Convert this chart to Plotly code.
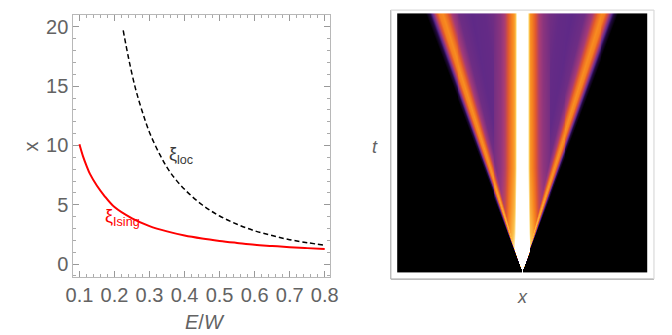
import numpy as np
import plotly.graph_objects as go

# --- left panel: length scales versus E/W ---
ising_e = [0.10, 0.11, 0.12, 0.13, 0.15, 0.17, 0.20, 0.25, 0.30, 0.35, 0.40,
           0.45, 0.50, 0.55, 0.60, 0.65, 0.70, 0.75, 0.80]
ising_xi = [10.1, 9.1, 8.3, 7.6, 6.6, 5.8, 4.8, 3.85, 3.2, 2.75, 2.4,
            2.15, 1.95, 1.78, 1.62, 1.52, 1.42, 1.34, 1.27]
loc_e = [0.225, 0.24, 0.26, 0.28, 0.30, 0.33, 0.36, 0.40, 0.45, 0.50,
         0.55, 0.60, 0.65, 0.70, 0.75, 0.80]
loc_xi = [19.7, 17.4, 14.8, 12.8, 11.1, 9.2, 7.7, 6.3, 5.0, 4.05,
          3.35, 2.8, 2.4, 2.05, 1.8, 1.58]

# --- right panel: light-cone density map ---
# intensity across the cone, against u = x / (v t)
cone_u = [0.00, 0.20, 0.30, 0.40, 0.55, 0.68, 0.76, 0.82, 0.86, 0.90, 0.94, 0.97, 1.00, 1.04]
cone_level = [0.50, 0.46, 0.40, 0.37, 0.36, 0.39, 0.50, 0.66, 0.73, 0.70, 0.55, 0.38, 0.15, 0.0]
# localized glow around x = 0 (in units of the panel half-width)
core_x = [0.000, 0.042, 0.052, 0.064, 0.085, 0.110, 0.135, 0.170, 0.220, 0.260]
core_level = [1.00, 1.00, 0.86, 0.76, 0.70, 0.62, 0.52, 0.45, 0.40, 0.0]
# brightening at early times
gain_t = [0.00, 0.04, 0.08, 0.15, 0.25, 0.40, 1.00]
gain = [1.45, 1.32, 1.24, 1.15, 1.08, 1.02, 1.00]
front_speed = 0.74
nx, nt = 257, 259

xs = np.linspace(-1 + 1 / nx, 1 - 1 / nx, nx)
ts = np.linspace(0.5 / nt, 1 - 0.5 / nt, nt)
X, T = np.meshgrid(xs, ts)
U = np.abs(X) / (front_speed * T)
cone = np.interp(U, cone_u, cone_level, right=0.0)
mask = np.interp(U, [0.0, 0.95, 1.05], [1.0, 1.0, 0.0])
core = np.interp(np.abs(X), core_x, core_level, right=0.0) * mask
G = np.interp(T, gain_t, gain)
Z = np.clip(np.maximum(cone, core) * G, 0, 1)

sunset = [[0.00, "#000000"], [0.20, "#2a0b4f"], [0.35, "#5a2888"], [0.50, "#a33a78"],
          [0.62, "#e0572e"], [0.72, "#f7861e"], [0.85, "#fbc04a"], [0.95, "#fff0c0"],
          [1.00, "#ffffff"]]

fig = go.Figure()
fig.add_trace(go.Scatter(x=ising_e, y=ising_xi, mode="lines", line=dict(color="#ff0000", width=2, shape="spline"),
                         xaxis="x", yaxis="y", hoverinfo="skip"))
fig.add_trace(go.Scatter(x=loc_e, y=loc_xi, mode="lines",
                         line=dict(color="#000000", width=1.5, dash="5px,3px", shape="spline"),
                         xaxis="x", yaxis="y", hoverinfo="skip"))
fig.add_trace(go.Heatmap(x=xs, y=ts, z=Z, colorscale=sunset, zmin=0, zmax=1, showscale=False,
                         xaxis="x2", yaxis="y2", hoverinfo="skip"))

gray = "#636363"
family = "Liberation Sans, Arial, sans-serif"
tickfont = dict(family=family, size=20, color=gray)
frame = "#b8b8b8"
common = dict(showgrid=False, zeroline=False, showline=True, linecolor=frame, linewidth=1)
bare = dict(showgrid=False, zeroline=False, showline=False, showticklabels=False, ticks="")

fig.update_layout(
    width=672, height=335, margin=dict(l=0, r=0, t=0, b=0),
    paper_bgcolor="white", plot_bgcolor="white", showlegend=False,
    xaxis=dict(domain=[0.0997, 0.491], range=[0.0825, 0.814], tick0=0.1, dtick=0.1, tickformat=".1f",
               ticks="inside", ticklen=6, tickcolor="#999999", mirror="allticks", tickfont=tickfont,
               minor=dict(dtick=0.02, ticks="inside", ticklen=3, tickcolor="#aaaaaa"), **common),
    yaxis=dict(domain=[0.173, 0.955], range=[-1.1, 21.0], tick0=0, dtick=5,
               ticks="inside", ticklen=6, tickcolor="#999999", mirror="allticks", tickfont=tickfont,
               minor=dict(dtick=1, ticks="inside", ticklen=3, tickcolor="#aaaaaa"), **common),
    xaxis2=dict(domain=[0.5844, 0.9862], range=[-1.0514, 1.0514], **bare),
    yaxis2=dict(domain=[0.167, 0.970], range=[-0.026, 1.013], **bare),
)

# frame around the density map: darker on the left and bottom
x0, x1 = 0.5844, 0.9862
y0, y1 = 0.167, 0.970
for (ax, ay, bx, by, col) in [(x0, y0, x1, y0, "#a4a4a4"), (x0, y0, x0, y1, "#b0b0b0"),
                              (x0, y1, x1, y1, "#dadada"), (x1, y0, x1, y1, "#dadada")]:
    fig.add_shape(type="line", xref="paper", yref="paper", x0=ax, y0=ay, x1=bx, y1=by,
                  line=dict(color=col, width=1.2), layer="above")

labfont = dict(family=family, size=20, color=gray)
ann = [
    dict(text="x", x=24 / 672, y=1 - 146 / 335, textangle=-90, font=labfont),
    dict(text="<i>E</i>/<i>W</i>", x=202 / 672, y=1 - 322 / 335, font=labfont),
    dict(text="<i>t</i>", x=377 / 672, y=1 - 147 / 335, font=dict(labfont, size=18)),
    dict(text="<i>x</i>", x=528 / 672, y=1 - 297 / 335, font=dict(labfont, size=18)),
    dict(text="ξ<sub>loc</sub>", x=177 / 672, y=1 - 156 / 335,
         font=dict(family=family, size=18, color="#3a3a3a")),
    dict(text="ξ<sub>Ising</sub>", x=117 / 672, y=1 - 218 / 335,
         font=dict(family=family, size=18, color="#ff0000")),
]
for a in ann:
    fig.add_annotation(xref="paper", yref="paper", showarrow=False, xanchor="center", yanchor="middle", **a)

fig.write_html("out.html")
